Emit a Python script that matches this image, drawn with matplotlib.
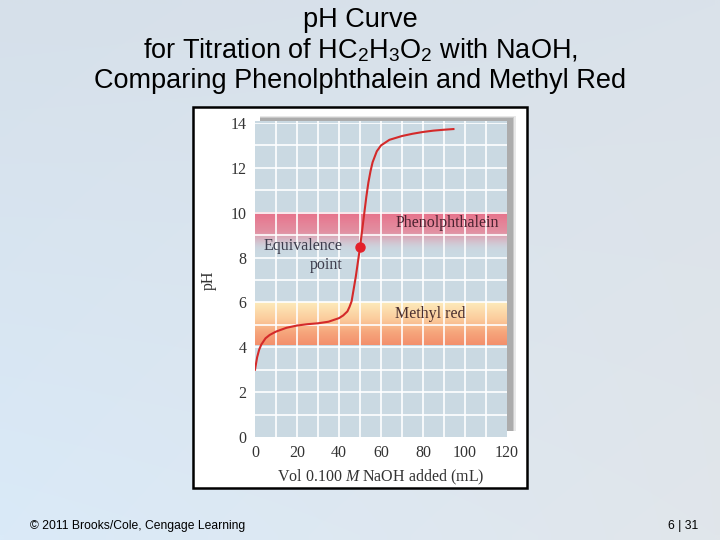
import matplotlib
matplotlib.use("Agg")
import matplotlib.pyplot as plt
import numpy as np
from matplotlib.patches import Rectangle
from matplotlib.colors import to_rgb

plt.rcParams['mathtext.fontset'] = 'custom'
plt.rcParams['mathtext.it'] = 'Liberation Serif:italic'
plt.rcParams['mathtext.rm'] = 'Liberation Sans'

# titration curve
vol = [0, 1, 2, 3, 5, 7, 10, 15, 20, 25, 30, 35, 40, 42, 44, 45, 46, 47, 48, 49,
       50, 51, 52, 53, 54, 55, 56, 58, 60, 64, 70, 75, 80, 85, 90, 94.5]
ph = [3.0, 3.55, 3.9, 4.12, 4.4, 4.55, 4.7, 4.87, 4.97, 5.03, 5.07, 5.14, 5.3, 5.42, 5.6, 5.8,
      6.05, 6.6, 7.15, 7.8, 8.45, 9.2, 9.95, 10.7, 11.35, 11.85, 12.25, 12.74, 13.0, 13.25,
      13.42, 13.52, 13.6, 13.66, 13.7, 13.73]
equiv_vol = 50
equiv_ph = 8.45

phenol_range = [8.2, 10.0]
methyl_range = [4.1, 6.0]

xticks = [0, 20, 40, 60, 80, 100, 120]
yticks = [0, 2, 4, 6, 8, 10, 12, 14]

title_lines = ["pH Curve",
               r"for Titration of HC$_\mathregular{2}$H$_\mathregular{3}$O$_\mathregular{2}$ with NaOH,",
               "Comparing Phenolphthalein and Methyl Red"]

W, H = 720, 540
fig = plt.figure(figsize=(7.2, 5.4), dpi=100)

# slide background
bg = fig.add_axes([0, 0, 1, 1], zorder=-10)
yy, xx = np.mgrid[0:1:60j, 0:1:80j]
tl, tr = np.array(to_rgb("#d6e0ea")), np.array(to_rgb("#dae2ea"))
bl, br = np.array(to_rgb("#daeaf8")), np.array(to_rgb("#e1e6eb"))
grad = (tl * ((1 - xx) * (1 - yy))[..., None] + tr * (xx * (1 - yy))[..., None]
        + bl * ((1 - xx) * yy)[..., None] + br * (xx * yy)[..., None])
bg.imshow(grad, extent=[0, 1, 0, 1], aspect='auto', interpolation='bilinear')
bg.set_axis_off()

# white panel with black frame
fig.patches.append(Rectangle((193 / W, 1 - 488 / H), 334 / W, 381 / H,
                             transform=fig.transFigure, facecolor='white',
                             edgecolor='black', linewidth=1.8, zorder=-5))

ax = fig.add_axes([255 / W, 1 - 437 / H, 252 / W, 314 / H])
ax.set_xlim(0, 120)
ax.set_ylim(0, 14)
ax.set_facecolor('none')
for s in ax.spines.values():
    s.set_visible(False)

# shadow behind the grid
for dx, dy, a in [(3.6, 0.22, 0.2), (3.0, 0.17, 0.35), (2.4, 0.12, 0.5)]:
    ax.add_patch(Rectangle((2.5, 0.25), 120.5 + dx - 2.5, 14.1 + dy - 0.25,
                           facecolor='#909090', edgecolor='none', alpha=a,
                           clip_on=False, zorder=0))
ax.add_patch(Rectangle((0, 0), 120, 14.1, facecolor='#cad9e2', edgecolor='none',
                       clip_on=False, zorder=1))


def band(lo, hi, stops):
    n = 100
    t = np.linspace(0, 1, n)
    pos = [p for p, c, a in stops]
    rgba = np.zeros((n, 1, 4))
    for k in range(3):
        rgba[:, 0, k] = np.interp(t, pos, [to_rgb(c)[k] for p, c, a in stops])
    rgba[:, 0, 3] = np.interp(t, pos, [a for p, c, a in stops])
    ax.imshow(rgba[::-1], extent=[0, 120, lo, hi], aspect='auto',
              interpolation='bilinear', zorder=2)


# gradients: position from bottom (0) to top (1)
band(phenol_range[0], phenol_range[1],
     [(0.0, '#cad9e2', 0.0), (0.25, '#d8b8c6', 0.6), (0.5, '#e48ea0', 0.95),
      (1.0, '#e8718a', 1.0)])
band(methyl_range[0], methyl_range[1],
     [(0.0, '#f38f6c', 1.0), (0.3, '#f6a67c', 1.0), (0.6, '#fbcb9c', 1.0),
      (1.0, '#fdebbb', 1.0)])
ax.set_ylim(0, 14)
ax.set_xlim(0, 120)

ax.hlines(np.arange(1, 15), 0, 120, colors='white', linewidth=1.4, alpha=0.85, zorder=3)
ax.vlines(np.arange(10, 120, 10), 0, 14.1, colors='white', linewidth=1.4, alpha=0.85,
          zorder=3, clip_on=False)

ax.plot(vol, ph, color='#d42a2a', linewidth=1.5, zorder=5)
ax.plot([equiv_vol], [equiv_ph], 'o', color='#e4202a', markersize=6.5, zorder=6)

serif = 'Liberation Serif'
ax.text(91.5, 9.55, "Phenolphthalein", family=serif, fontsize=11.5, color='#4a2230',
        ha='center', va='center', zorder=7)
ax.text(83.5, 5.5, "Methyl red", family=serif, fontsize=11.5, color='#4a2e2e',
        ha='center', va='center', zorder=7)
ax.text(41.5, 8.5, "Equivalence", family=serif, fontsize=11.5, color='#3c3c4c',
        ha='right', va='center', zorder=7)
ax.text(41.5, 7.65, "point", family=serif, fontsize=11.5, color='#3c3c4c',
        ha='right', va='center', zorder=7)

ax.set_xticks(xticks)
ax.set_yticks(yticks)
ax.tick_params(length=0, pad=6, labelsize=11.5, labelcolor='#333333')
for lab in ax.get_xticklabels() + ax.get_yticklabels():
    lab.set_family(serif)
ax.set_xlabel(r"Vol 0.100 $\mathit{M}$ NaOH added (mL)", family=serif, fontsize=11.5,
              color='#333333', labelpad=5)
ax.set_ylabel("pH", family=serif, fontsize=11.5, color='#333333', labelpad=10)

for i, line in enumerate(title_lines):
    fig.text(0.5, 1 - [20, 50, 81][i] / H, line, family='Liberation Sans', fontsize=19.5,
             ha='center', va='center', color='black')

fig.text(30 / W, 1 - 526 / H, "\u00a9 2011 Brooks/Cole, Cengage Learning",
         family='Liberation Sans', fontsize=8.7, ha='left', va='center', color='black')
fig.text(698 / W, 1 - 526 / H, "6 | 31", family='Liberation Sans', fontsize=8.7,
         ha='right', va='center', color='black')

fig.savefig("out.png", dpi=100)
